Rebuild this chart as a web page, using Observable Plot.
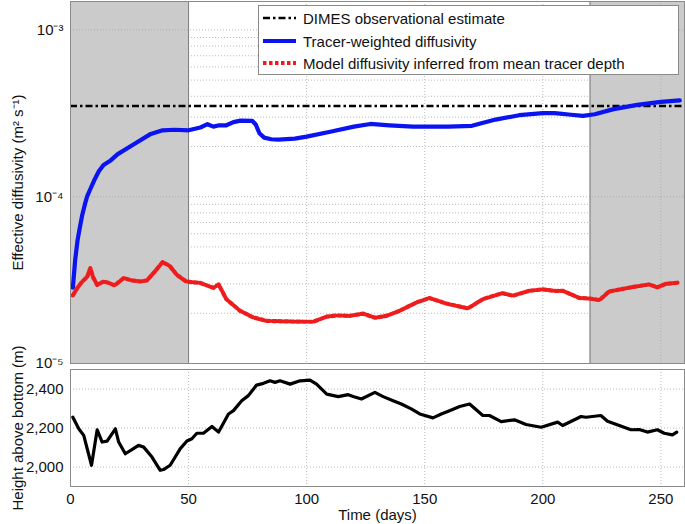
<!DOCTYPE html>
<html>
<head>
<meta charset="utf-8">
<script src="https://cdn.jsdelivr.net/npm/d3@7"></script>
<script src="https://cdn.jsdelivr.net/npm/@observablehq/plot@0.6"></script>
<style>
  body { margin: 0; background: white; font-family: "Liberation Sans", Arial, sans-serif; }
  #wrap { position: relative; width: 685px; height: 524px; }
  #wrap svg { display: block; overflow: visible; }
  #wrap svg g, #wrap svg text { font-size: 15px; fill: #111; }
  #wrap svg g[aria-label="frame"], #wrap svg g[aria-label="line"], #wrap svg g[aria-label="rule"], #wrap svg g[aria-label="rect"] { fill: none; }
  #wrap svg g[aria-label="rect"] { fill: #cbcbcb; }
  #legend { position: absolute; left: 258px; top: 5px; width: 421px; height: 70px; border: 1px solid #8a8a8a; background: white; box-sizing: border-box; }
  .row { position: absolute; left: 0; height: 22px; display: flex; align-items: center; font-size: 15px; color: #111; white-space: nowrap; }
  .row svg { margin-left: 4px; margin-right: 7px; }
</style>
</head>
<body>
<div id="wrap"><div id="top"></div><div id="bottom"></div><div id="legend"></div></div>
<script>
// ---- data ----
const seriesNames = ["DIMES observational estimate", "Tracer-weighted diffusivity", "Model diffusivity inferred from mean tracer depth"];
const dimesValue = 3.5e-4;

const blueDays = [1,2,3,4,5,6,7,8.5,10,12,14,17,20,27,34,39,44,50,55,58,60.5,63,66,69,72,77,78.5,80,82,85,88,95,100,110,120,127,135,145,160,170,180,190,200,205,212,217,222,230,240,250,258];
const blueVals = [2.85e-5,4.2e-5,5.5e-5,6.6e-5,7.8e-5,8.9e-5,1.0e-4,1.12e-4,1.25e-4,1.42e-4,1.55e-4,1.65e-4,1.8e-4,2.07e-4,2.38e-4,2.5e-4,2.52e-4,2.5e-4,2.6e-4,2.72e-4,2.63e-4,2.68e-4,2.68e-4,2.8e-4,2.86e-4,2.85e-4,2.7e-4,2.4e-4,2.26e-4,2.21e-4,2.2e-4,2.23e-4,2.29e-4,2.45e-4,2.63e-4,2.73e-4,2.68e-4,2.63e-4,2.63e-4,2.66e-4,2.9e-4,3.08e-4,3.17e-4,3.17e-4,3.1e-4,3.05e-4,3.12e-4,3.35e-4,3.55e-4,3.7e-4,3.78e-4];

const redDays = [1,3,5,7,8.4,9.5,11.3,14,16,18.7,22.5,26,29.6,32.4,36,39,42,45,49,55,60.5,62.7,66,71.8,77.4,83,90,98.6,102.8,108.5,112.7,118,124,129,133.8,139.4,146.4,152,159,168.3,174.6,183,187.3,194.3,200,205.6,208.4,215.5,220,224,228,237.8,245,248.5,252,257];
const redVals = [2.56e-5,2.85e-5,3.1e-5,3.3e-5,3.73e-5,3.3e-5,2.96e-5,3.1e-5,3.05e-5,2.94e-5,3.25e-5,3.15e-5,3.1e-5,3.15e-5,3.6e-5,4.05e-5,3.85e-5,3.4e-5,3.1e-5,3.04e-5,2.84e-5,2.98e-5,2.43e-5,2.07e-5,1.89e-5,1.8e-5,1.79e-5,1.78e-5,1.78e-5,1.91e-5,1.94e-5,1.93e-5,1.99e-5,1.88e-5,1.93e-5,2.07e-5,2.32e-5,2.47e-5,2.29e-5,2.14e-5,2.43e-5,2.64e-5,2.55e-5,2.73e-5,2.78e-5,2.72e-5,2.73e-5,2.47e-5,2.45e-5,2.4e-5,2.7e-5,2.87e-5,2.98e-5,2.86e-5,3.0e-5,3.05e-5];

const heightDays = [1,3.5,5.6,8.9,11.3,13.4,15.5,19,20.4,23.2,26,28.8,31,34.5,38,39.4,42.2,46.5,49.3,51.4,53.5,56.3,59.9,62.7,66.9,69,72.5,75.3,78.8,81.7,84.5,86.6,88.7,93,97.2,101.4,104.2,108.5,113.4,117.6,119.7,123.2,128.9,132.4,136.6,140.1,144.3,147.9,153.5,157,160.5,164.8,169,174.6,177.4,182.4,188,192.9,199.3,206.3,208.4,216.2,218.3,224.6,227.4,232.4,237.3,240.8,244.3,248.5,251.4,254.9,256.7];
const heightVals = [2255,2196,2162,2009,2191,2128,2133,2196,2128,2068,2089,2111,2102,2051,1983,1987,2009,2094,2133,2145,2173,2173,2208,2179,2272,2289,2340,2366,2420,2429,2442,2434,2442,2425,2442,2446,2425,2374,2361,2371,2362,2349,2383,2361,2340,2323,2298,2272,2252,2272,2289,2310,2323,2264,2264,2233,2242,2218,2204,2230,2213,2259,2255,2264,2235,2213,2191,2192,2179,2191,2173,2165,2179];

const shadedStarts = [0, 220];
const shadedEnds = [50, 260];

const xTicks = [0, 50, 100, 150, 200, 250];
const yTopTicks = [1e-5, 1e-4, 1e-3];
const yTopTickLabels = ["10\u207B\u2075", "10\u207B\u2074", "10\u207B\u00B3"];
const yBottomTicks = [2000, 2200, 2400];
const yBottomTickLabels = ["2,000", "2,200", "2,400"];

// ---- derived tables ----
const blue = blueDays.map((d, i) => ({day: d, v: blueVals[i]}));
const red = redDays.map((d, i) => ({day: d, v: redVals[i]}));
const height = heightDays.map((d, i) => ({day: d, v: heightVals[i]}));
const shaded = shadedStarts.map((s, i) => ({x1: s, x2: shadedEnds[i]}));
const minorTicks = [];
for (const dec of [1e-5, 1e-4, 1e-3]) for (let k = 2; k <= 9; k++) { const t = k * dec; if (t < 1.5e-3) minorTicks.push(t); }

const font = "'Liberation Sans', Arial, Helvetica, sans-serif";
const gridColor = "#a8a8a8";
const frameColor = "#8a8a8a";

const topChart = Plot.plot({
  width: 685, height: 364,
  marginLeft: 70, marginRight: 1, marginTop: 1, marginBottom: 1,
  style: {fontFamily: font, fontSize: "15px", color: "#111", background: "white", overflow: "visible"},
  x: {domain: [0, 260], axis: null},
  y: {type: "log", domain: [1e-5, 1.48e-3], ticks: yTopTicks,
      tickFormat: d => yTopTickLabels[yTopTicks.indexOf(d)],
      tickSize: 0, tickPadding: 7,
      label: "Effective diffusivity (m\u00B2 s\u207B\u00B9)", labelAnchor: "center", labelArrow: "none", labelOffset: 58},
  marks: [
    Plot.rect(shaded, {x1: "x1", x2: "x2", y1: 1e-5, y2: 1.48e-3, fill: "#cbcbcb"}),
    Plot.ruleY(minorTicks, {x1: 50, x2: 220, stroke: gridColor, strokeWidth: 0.8, strokeDasharray: "1,2"}),
    Plot.ruleY([1e-4, 1e-3], {stroke: gridColor, strokeWidth: 0.8, strokeDasharray: "1,2"}),
    Plot.ruleX([100, 150, 200, 250], {stroke: gridColor, strokeWidth: 0.8, strokeDasharray: "1,2"}),
    Plot.ruleX([50, 220], {stroke: "#7a7a7a", strokeWidth: 1}),
    Plot.ruleY([dimesValue], {stroke: "#000", strokeWidth: 2.6, strokeDasharray: "7,3,2.5,3"}),
    Plot.line(blue, {x: "day", y: "v", stroke: "#0a14f0", strokeWidth: 4.2}),
    Plot.line(red, {x: "day", y: "v", stroke: "#ee1c1c", strokeWidth: 4.2, strokeDasharray: "3.5,2.5"}),
    Plot.frame({stroke: frameColor, strokeWidth: 1})
  ]
});

const bottomChart = Plot.plot({
  width: 685, height: 160,
  marginLeft: 70, marginRight: 1, marginTop: 5, marginBottom: 38,
  style: {fontFamily: font, fontSize: "15px", color: "#111", background: "white", overflow: "visible"},
  x: {domain: [0, 260], ticks: xTicks, tickFormat: d => String(d), tickSize: 0, tickPadding: 7,
      label: "Time (days)", labelAnchor: "center", labelArrow: "none", labelOffset: 33},
  y: {domain: [1900, 2500], ticks: yBottomTicks,
      tickFormat: d => yBottomTickLabels[yBottomTicks.indexOf(d)],
      tickSize: 0, tickPadding: 7,
      label: "Height above bottom (m)", labelAnchor: "center", labelArrow: "none", labelOffset: 58},
  marks: [
    Plot.ruleY(yBottomTicks, {stroke: gridColor, strokeWidth: 0.8, strokeDasharray: "1,2"}),
    Plot.ruleX(xTicks.slice(1), {stroke: gridColor, strokeWidth: 0.8, strokeDasharray: "1,2"}),
    Plot.line(height, {x: "day", y: "v", stroke: "#000", strokeWidth: 3.2}),
    Plot.frame({stroke: frameColor, strokeWidth: 1})
  ]
});

document.getElementById("top").appendChild(topChart);
document.getElementById("bottom").appendChild(bottomChart);

// ---- legend ----
const legendStyles = [
  {stroke: "#000", width: 2.6, dash: "7,3,2.5,3"},
  {stroke: "#0a14f0", width: 4.2, dash: null},
  {stroke: "#ee1c1c", width: 4.2, dash: "3.5,2.5"}
];
const legend = document.getElementById("legend");
const rowTops = [1, 24, 46];
seriesNames.forEach((name, i) => {
  const row = document.createElement("div");
  row.className = "row";
  row.style.top = rowTops[i] + "px";
  const s = legendStyles[i];
  row.innerHTML = `<svg width="33" height="10"><line x1="0" x2="33" y1="5" y2="5" stroke="${s.stroke}" stroke-width="${s.width}" ${s.dash ? `stroke-dasharray="${s.dash}"` : ""}/></svg><span>${name}</span>`;
  legend.appendChild(row);
});
</script>
</body>
</html>
